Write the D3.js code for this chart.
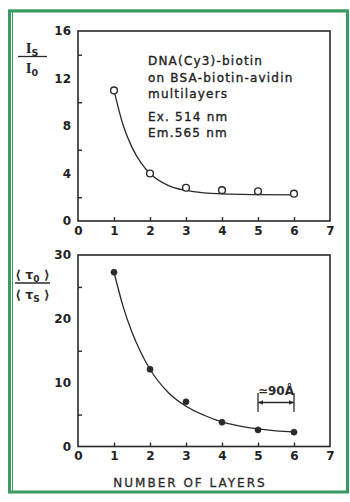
<!DOCTYPE html>
<html><head><meta charset="utf-8">
<script src="https://cdn.jsdelivr.net/npm/d3@7"></script>
<style>
html,body{margin:0;padding:0;background:#fff;}
svg{display:block;}
.tk text{font-family:"DejaVu Sans",sans-serif;font-weight:bold;font-size:12px;fill:#222;}
.ann{font-family:"DejaVu Sans",sans-serif;font-size:12px;fill:#222;letter-spacing:1.2px;stroke:#222;stroke-width:0.35px;}
</style></head>
<body>
<script>
// ---- data ----
const layers = [1, 2, 3, 4, 5, 6];
const intensityRatio = [11.0, 4.0, 2.8, 2.6, 2.5, 2.3];      // I_S / I_0
const lifetimeRatio = [27.3, 12.1, 7.0, 3.8, 2.6, 2.25];     // <tau_0>/<tau_S>
// fitted curves
const fitX1 = [1, 1.25, 1.5, 1.75, 2, 2.5, 3, 3.5, 4, 5, 6];
const fitY1 = [11.0, 8.1, 6.2, 4.9, 4.0, 3.0, 2.57, 2.37, 2.28, 2.22, 2.2];
const fitX2 = [1, 1.25, 1.5, 1.75, 2, 2.5, 3, 3.5, 4, 4.5, 5, 5.5, 6];
const fitY2 = [27.3, 22.0, 17.9, 14.7, 12.1, 8.5, 6.3, 4.9, 3.85, 3.2, 2.75, 2.45, 2.3];
const xTickLabels = [0, 1, 2, 3, 4, 5, 6, 7];
const xTickMarks = [1, 2, 3, 4, 5, 6];
const yTickLabels1 = [0, 4, 8, 12, 16];
const yTickMarks1 = [2, 6, 10, 14];
const yTickLabels2 = [0, 10, 20, 30];
const yTickMarks2 = [5, 15, 25];
const annotation = ["DNA(Cy3)-biotin", "on BSA-biotin-avidin", "multilayers", "Ex. 514 nm", "Em.565 nm"];
const xTitle = "NUMBER OF LAYERS";

const W = 350, H = 502;
const svg = d3.select("body").append("svg").attr("width", W).attr("height", H);
svg.append("rect").attr("width", W).attr("height", H).attr("fill", "#fff");

// green frame
const green = "#3b9a62";
svg.append("rect").attr("x", 9).attr("y", 9.5).attr("width", 338.5).attr("height", 482)
  .attr("fill", "none").attr("stroke", "#9fd8b4").attr("stroke-width", 1);
svg.append("path").attr("d", "M9.5,492 L9.5,11 L347.5,11 L347.5,492 Z")
  .attr("fill", "none").attr("stroke", green).attr("stroke-width", 3);
svg.append("line").attr("x1", 12.5).attr("x2", 12.5).attr("y1", 12).attr("y2", 491)
  .attr("stroke", green).attr("stroke-width", 1);

const x = d3.scaleLinear().domain([0, 7]).range([78, 330]);
const ink = "#2a2a2a";

function panel(yDomain, yRange, yLab, yMarks, xs, ys, fx, fy, filled) {
  const y = d3.scaleLinear().domain(yDomain).range(yRange);
  const g = svg.append("g");
  g.append("rect").attr("x", x(0)).attr("y", y(yDomain[1])).attr("width", x(7) - x(0))
    .attr("height", y(yDomain[0]) - y(yDomain[1])).attr("fill", "none")
    .attr("stroke", ink).attr("stroke-width", 1.6);
  g.append("g").attr("class", "tk").attr("transform", `translate(0,${y(0)})`)
    .call(d3.axisBottom(x).tickValues(xTickLabels).tickSize(0).tickPadding(5).tickFormat(d3.format("d")))
    .call(a => a.select(".domain").remove());
  g.append("g").attr("transform", `translate(0,${y(0)})`)
    .call(d3.axisBottom(x).tickValues(xTickMarks).tickSize(-4).tickFormat(""))
    .call(a => a.select(".domain").remove())
    .call(a => a.selectAll("line").attr("stroke", ink).attr("stroke-width", 1.4));
  g.append("g").attr("class", "tk").attr("transform", `translate(${x(0)},0)`)
    .call(d3.axisLeft(y).tickValues(yLab).tickSize(0).tickPadding(7).tickFormat(d3.format("d")))
    .call(a => a.select(".domain").remove());
  g.append("g").attr("transform", `translate(${x(0)},0)`)
    .call(d3.axisLeft(y).tickValues(yMarks).tickSize(-4).tickFormat(""))
    .call(a => a.select(".domain").remove())
    .call(a => a.selectAll("line").attr("stroke", ink).attr("stroke-width", 1.4));
  const line = d3.line().x(d => x(d[0])).y(d => y(d[1])).curve(d3.curveMonotoneX);
  g.append("path").datum(fx.map((v, i) => [v, fy[i]])).attr("d", line)
    .attr("fill", "none").attr("stroke", ink).attr("stroke-width", 1.3);
  g.selectAll("circle").data(xs.map((v, i) => [v, ys[i]])).join("circle")
    .attr("cx", d => x(d[0])).attr("cy", d => y(d[1]))
    .attr("r", filled ? 3 : 3.4)
    .attr("fill", filled ? ink : "#fff").attr("stroke", ink).attr("stroke-width", filled ? 0.8 : 1.4);
  return y;
}

const y1 = panel([0, 16], [221, 31], yTickLabels1, yTickMarks1, layers, intensityRatio, fitX1, fitY1, false);
const y2 = panel([0, 30], [446.5, 255], yTickLabels2, yTickMarks2, layers, lifetimeRatio, fitX2, fitY2, true);

// annotation text
const annY = [65, 81.5, 98, 121, 137];
annotation.forEach((t, i) => {
  svg.append("text").attr("class", "ann").attr("x", 148).attr("y", annY[i]).text(t);
});

// y-axis fraction labels
function frac(cx, lineY, x0, x1, num, den, family, size, subSize) {
  svg.append("line").attr("x1", x0).attr("x2", x1).attr("y1", lineY).attr("y2", lineY)
    .attr("stroke", ink).attr("stroke-width", 1.3);
  [num, den].forEach((parts, k) => {
    const t = svg.append("text").attr("x", cx).attr("y", k === 0 ? lineY - 4 : lineY + 16)
      .attr("text-anchor", "middle").attr("font-family", family).attr("font-weight", "bold")
      .attr("font-size", size).attr("fill", ink);
    parts.forEach(p => {
      const s = t.append("tspan").text(p.t);
      if (p.sub) s.attr("font-size", subSize).attr("dy", 3).attr("font-family", '"DejaVu Sans",sans-serif');
      if (p.after) s.attr("dy", -3);
    });
  });
}
frac(32, 56.5, 18, 47, [{t: "I"}, {t: "S", sub: true}], [{t: "I"}, {t: "0", sub: true}],
  '"Liberation Serif","DejaVu Serif",serif', 15, 9.5);
frac(32.5, 283, 15, 50, [{t: "⟨ τ"}, {t: "0", sub: true}, {t: " ⟩", after: true}],
  [{t: "⟨ τ"}, {t: "S", sub: true}, {t: " ⟩", after: true}],
  '"DejaVu Sans",sans-serif', 12.5, 9);

// ≃90Å dimension marker
const dimY = 402.5;
const ga = svg.append("g").attr("stroke", ink).attr("stroke-width", 1.3);
[5, 6].forEach(v => ga.append("line").attr("x1", x(v)).attr("x2", x(v)).attr("y1", 393).attr("y2", 412));
ga.append("line").attr("x1", x(5)).attr("x2", x(6)).attr("y1", dimY).attr("y2", dimY);
svg.append("path").attr("fill", ink)
  .attr("d", `M${x(5)},${dimY} l5,-2.2 l0,4.4 Z M${x(6)},${dimY} l-5,-2.2 l0,4.4 Z`);
svg.append("text").attr("x", (x(5) + x(6)) / 2).attr("y", 395).attr("text-anchor", "middle")
  .attr("font-family", '"DejaVu Sans",sans-serif').attr("font-weight", "bold").attr("font-size", 12)
  .attr("fill", ink).text("≃90Å");

// x title
svg.append("text").attr("x", 190).attr("y", 487).attr("text-anchor", "middle")
  .attr("font-family", '"DejaVu Sans",sans-serif').attr("font-size", 12).attr("letter-spacing", 2)
  .attr("stroke", ink).attr("stroke-width", 0.3)
  .attr("fill", ink).text(xTitle);
</script>
</body></html>
